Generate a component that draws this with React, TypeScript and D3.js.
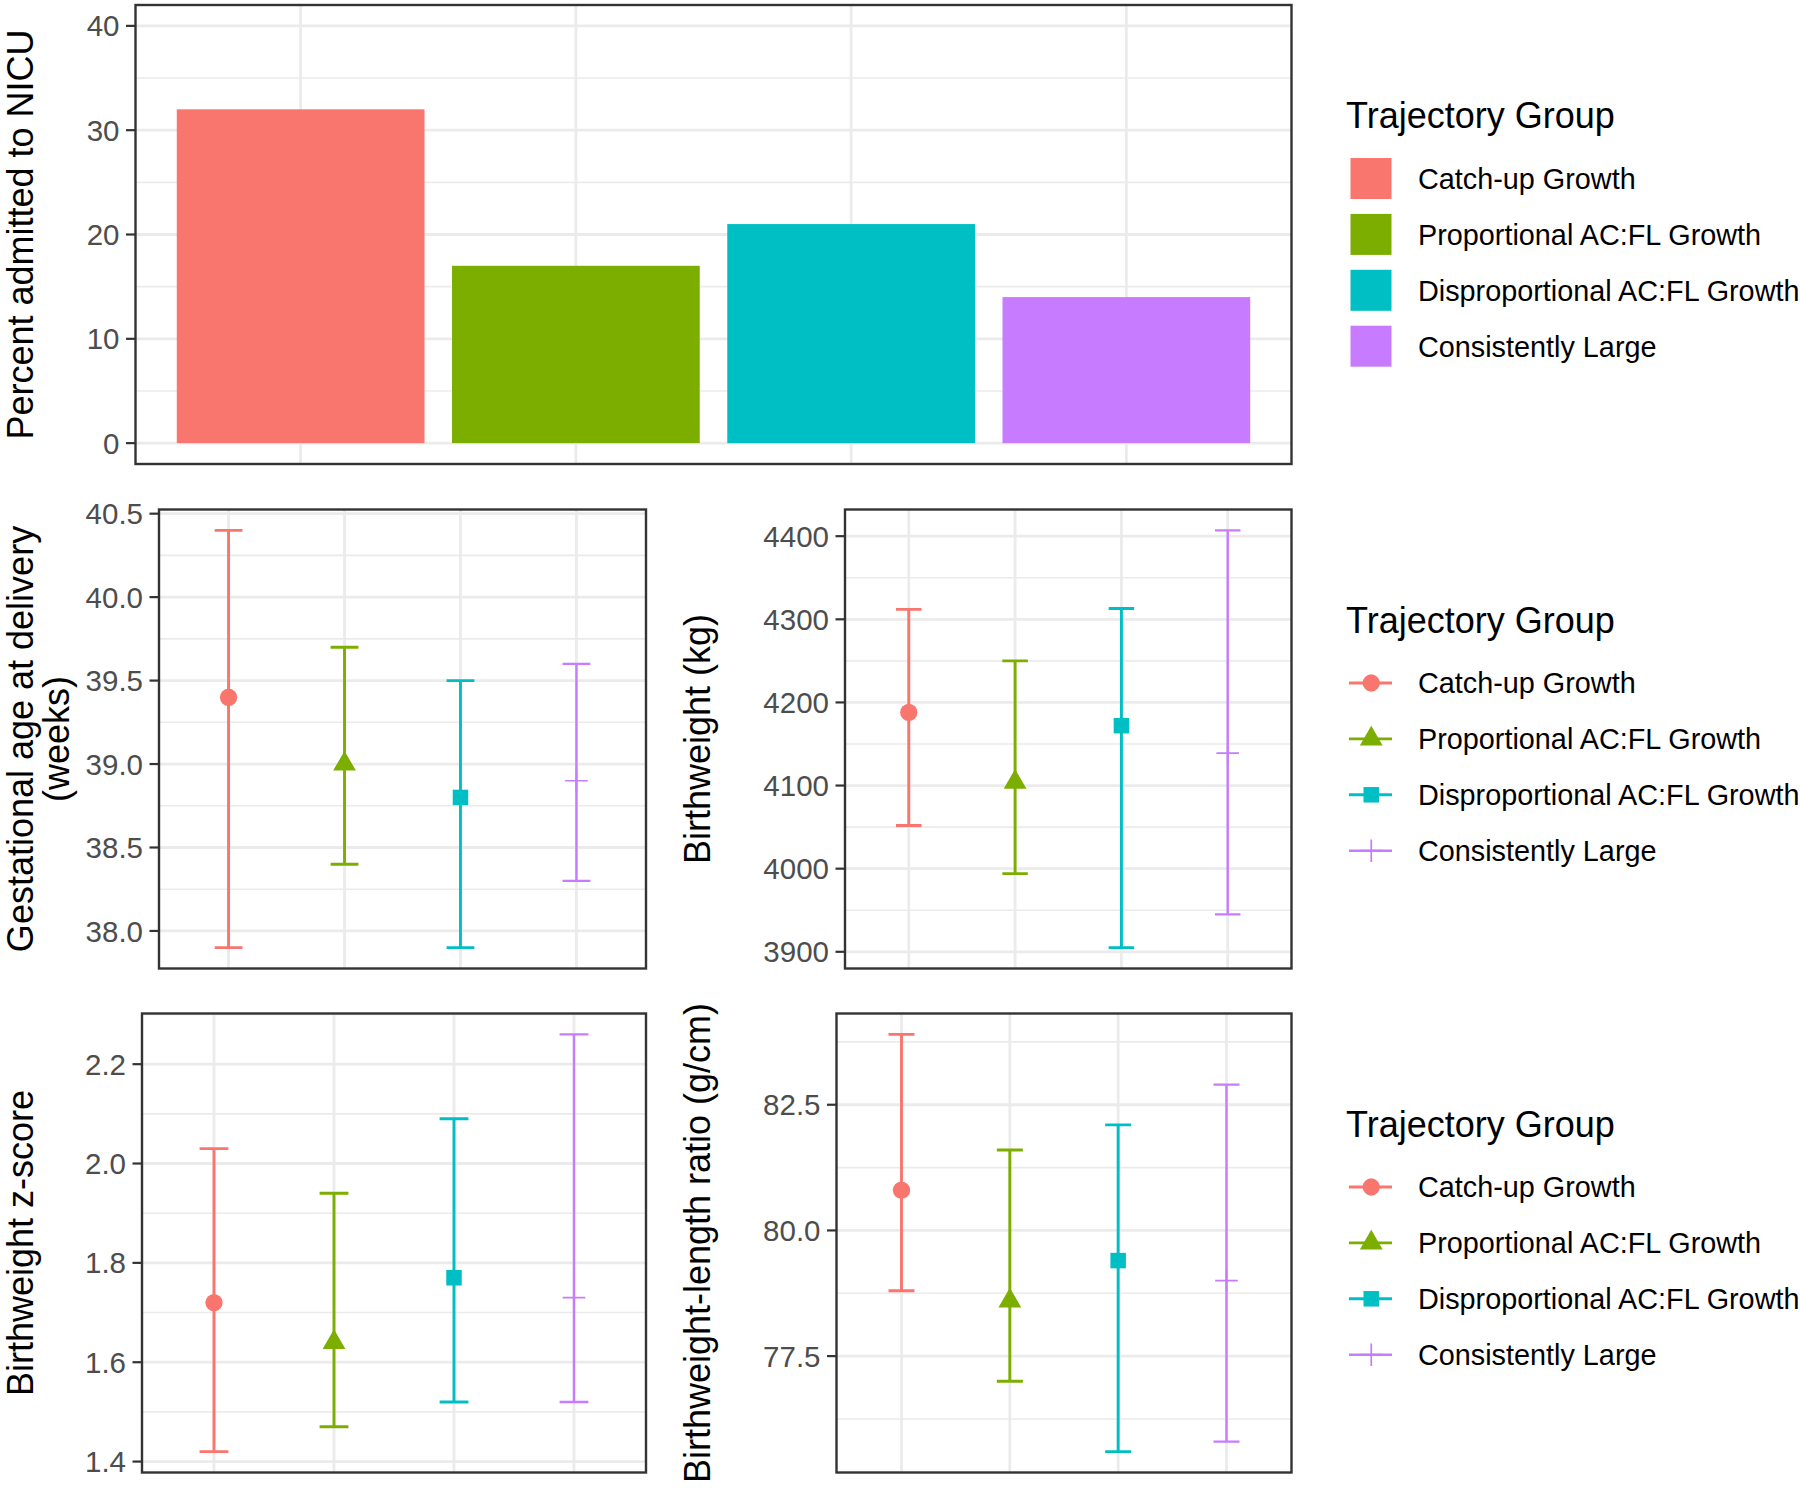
import React from "react";
import * as d3 from "d3";

// Trajectory groups (shared legend)
const groups = [
  "Catch-up Growth",
  "Proportional AC:FL Growth",
  "Disproportional AC:FL Growth",
  "Consistently Large",
];
const groupColors = ["#F8766D", "#7CAE00", "#00BFC4", "#C77CFF"];
const groupShapes = ["circle", "triangle", "square", "plus"];

// Percent admitted to NICU
const nicuPercent = [32, 17, 21, 14];
const nicuLimits = [0, 40];
const nicuTicks = [0, 10, 20, 30, 40];

// Gestational age at delivery (weeks)
const gaMean = [39.4, 39.0, 38.8, 38.9];
const gaLower = [37.9, 38.4, 37.9, 38.3];
const gaUpper = [40.4, 39.7, 39.5, 39.6];
const gaTicks = [38.0, 38.5, 39.0, 39.5, 40.0, 40.5];

// Birthweight
const bwMean = [4188, 4104, 4172, 4139];
const bwLower = [4052, 3994, 3905, 3945];
const bwUpper = [4312, 4250, 4313, 4407];
const bwTicks = [3900, 4000, 4100, 4200, 4300, 4400];

// Birthweight z-score
const zMean = [1.72, 1.64, 1.77, 1.73];
const zLower = [1.42, 1.47, 1.52, 1.52];
const zUpper = [2.03, 1.94, 2.09, 2.26];
const zTicks = [1.4, 1.6, 1.8, 2.0, 2.2];

// Birthweight-length ratio (g/cm)
const ratioMean = [80.8, 78.6, 79.4, 79.0];
const ratioLower = [78.8, 77.0, 75.6, 75.8];
const ratioUpper = [83.9, 81.6, 82.1, 82.9];
const ratioTicks = [77.5, 80.0, 82.5];

const FONT = '"Liberation Sans", Arial, Helvetica, sans-serif';
const GRID = "#EBEBEB";
const BORDER = "#333333";
const TICK_TEXT = "#4D4D4D";

type Box = { x0: number; x1: number; y0: number; y1: number };

const boxes: Record<string, Box> = {
  nicu: { x0: 135.5, x1: 1291.5, y0: 5, y1: 464 },
  ga: { x0: 159, x1: 646, y0: 509.5, y1: 968.5 },
  bw: { x0: 845, x1: 1291.5, y0: 509.5, y1: 968.5 },
  z: { x0: 142, x1: 646, y0: 1013.5, y1: 1472.5 },
  ratio: { x0: 836.5, x1: 1291.5, y0: 1013.5, y1: 1472.5 },
};

// ggplot-style 5% expansion
function expand(lo: number, hi: number) {
  const d = (hi - lo) * 0.05;
  return [lo - d, hi + d];
}

function minorBreaks(ticks: number[], domain: number[]) {
  const step = ticks[1] - ticks[0];
  const out: number[] = [];
  for (let i = -1; i < ticks.length; i++) {
    const v = ticks[0] + step * (i + 0.5);
    if (v > domain[0] && v < domain[1]) out.push(v);
  }
  return out;
}

function xScale(box: Box) {
  return d3.scalePoint<string>().domain(groups).range([box.x0, box.x1]).padding(0.6);
}

function Frame({ box, x, y, ticks, fmt, children }: any) {
  const minor = minorBreaks(ticks, y.domain());
  return (
    <g>
      <rect x={box.x0} y={box.y0} width={box.x1 - box.x0} height={box.y1 - box.y0} fill="#fff" />
      {minor.map((v: number) => (
        <line key={"mi" + v} x1={box.x0} x2={box.x1} y1={y(v)} y2={y(v)} stroke={GRID} strokeWidth={1.6} />
      ))}
      {ticks.map((v: number) => (
        <line key={"ma" + v} x1={box.x0} x2={box.x1} y1={y(v)} y2={y(v)} stroke={GRID} strokeWidth={2.8} />
      ))}
      {groups.map((g) => (
        <line key={"v" + g} x1={x(g)} x2={x(g)} y1={box.y0} y2={box.y1} stroke={GRID} strokeWidth={2.8} />
      ))}
      {children}
      <rect
        x={box.x0}
        y={box.y0}
        width={box.x1 - box.x0}
        height={box.y1 - box.y0}
        fill="none"
        stroke={BORDER}
        strokeWidth={2.4}
      />
      {ticks.map((v: number) => (
        <g key={"t" + v}>
          <line x1={box.x0 - 9.5} x2={box.x0} y1={y(v)} y2={y(v)} stroke={BORDER} strokeWidth={2.2} />
          <text
            x={box.x0 - 16}
            y={y(v)}
            dy="0.36em"
            textAnchor="end"
            fontSize={29.5}
            fill={TICK_TEXT}
          >
            {fmt(v)}
          </text>
        </g>
      ))}
    </g>
  );
}

function Marker({ shape, cx, cy, color }: any) {
  if (shape === "plus") {
    const h = 11.3;
    return (
      <path
        d={`M${cx - h},${cy}H${cx + h}M${cx},${cy - h}V${cy + h}`}
        stroke={color}
        strokeWidth={1.7}
        fill="none"
      />
    );
  }
  const sym =
    shape === "circle" ? d3.symbolCircle : shape === "triangle" ? d3.symbolTriangle : d3.symbolSquare;
  const size = shape === "circle" ? 235 : shape === "triangle" ? 225 : 240;
  return <path transform={`translate(${cx},${cy})`} d={d3.symbol(sym, size)() || ""} fill={color} />;
}

function BarPanel() {
  const box = boxes.nicu;
  const x = xScale(box);
  const y = d3.scaleLinear().domain(expand(nicuLimits[0], nicuLimits[1])).range([box.y1, box.y0]);
  const bw = x.step() * 0.9;
  return (
    <Frame box={box} x={x} y={y} ticks={nicuTicks} fmt={d3.format("d")}>
      {nicuPercent.map((v, i) => (
        <rect
          key={groups[i]}
          x={x(groups[i])! - bw / 2}
          y={y(v)}
          width={bw}
          height={y(0) - y(v)}
          fill={groupColors[i]}
        />
      ))}
    </Frame>
  );
}

function ErrorPanel({ box, mean, lower, upper, ticks, fmt }: any) {
  const x = xScale(box);
  const y = d3
    .scaleLinear()
    .domain(expand(d3.min(lower) as number, d3.max(upper) as number))
    .range([box.y1, box.y0]);
  const cap = x.step() * 0.24;
  return (
    <Frame box={box} x={x} y={y} ticks={ticks} fmt={fmt}>
      {groups.map((g, i) => {
        const cx = x(g)!;
        const col = groupColors[i];
        const lw = i === 3 ? 2.4 : 2.9;
        return (
          <g key={g}>
            <path
              d={`M${cx - cap / 2},${y(upper[i])}H${cx + cap / 2}M${cx},${y(upper[i])}V${y(lower[i])}M${
                cx - cap / 2
              },${y(lower[i])}H${cx + cap / 2}`}
              stroke={col}
              strokeWidth={lw}
              fill="none"
            />
            <Marker shape={groupShapes[i]} cx={cx} cy={y(mean[i])} color={col} />
          </g>
        );
      })}
    </Frame>
  );
}

function AxisTitle({ lines, x, cy }: any) {
  return (
    <text transform={`translate(${x},${cy}) rotate(-90)`} textAnchor="middle" fontSize={36} fill="#000">
      {lines.map((l: string, i: number) => (
        <tspan key={l} x={0} y={i * 36}>
          {l}
        </tspan>
      ))}
    </text>
  );
}

function Legend({ cy, kind }: any) {
  const keyX0 = 1350.5;
  const keyX1 = 1392;
  const keyCx = (keyX0 + keyX1) / 2;
  return (
    <g>
      <text x={1346} y={cy - 106.5} fontSize={36} fill="#000">
        Trajectory Group
      </text>
      {groups.map((g, i) => {
        const ky = cy - 56 + i * 55.9;
        return (
          <g key={g}>
            {kind === "fill" ? (
              <rect x={keyX0} y={ky - 20.5} width={41} height={41} fill={groupColors[i]} />
            ) : (
              <g>
                <line
                  x1={keyX0 - 1.5}
                  x2={keyX1}
                  y1={ky}
                  y2={ky}
                  stroke={groupColors[i]}
                  strokeWidth={i === 3 ? 2.4 : 2.9}
                />
                <Marker shape={groupShapes[i]} cx={keyCx} cy={ky} color={groupColors[i]} />
              </g>
            )}
            <text x={1418} y={ky} dy="0.36em" fontSize={28.8} fill="#000">
              {g}
            </text>
          </g>
        );
      })}
    </g>
  );
}

export default function App() {
  const f1 = d3.format(".1f");
  const fd = d3.format("d");
  const mid = (b: Box) => (b.y0 + b.y1) / 2;
  return (
    <div style={{ position: "absolute", left: 0, top: 0, background: "#fff" }}>
      <svg width={1800} height={1490} style={{ display: "block", fontFamily: FONT }}>
        <rect width={1800} height={1490} fill="#fff" />
        <BarPanel />
        <ErrorPanel box={boxes.ga} mean={gaMean} lower={gaLower} upper={gaUpper} ticks={gaTicks} fmt={f1} />
        <ErrorPanel box={boxes.bw} mean={bwMean} lower={bwLower} upper={bwUpper} ticks={bwTicks} fmt={fd} />
        <ErrorPanel box={boxes.z} mean={zMean} lower={zLower} upper={zUpper} ticks={zTicks} fmt={f1} />
        <ErrorPanel
          box={boxes.ratio}
          mean={ratioMean}
          lower={ratioLower}
          upper={ratioUpper}
          ticks={ratioTicks}
          fmt={f1}
        />

        <AxisTitle lines={["Percent admitted to NICU"]} x={33} cy={mid(boxes.nicu)} />
        <AxisTitle lines={["Gestational age at delivery", "(weeks)"]} x={33} cy={mid(boxes.ga)} />
        <AxisTitle lines={["Birthweight (kg)"]} x={710} cy={mid(boxes.bw)} />
        <AxisTitle lines={["Birthweight z-score"]} x={33} cy={mid(boxes.z)} />
        <AxisTitle lines={["Birthweight-length ratio (g/cm)"]} x={710} cy={mid(boxes.ratio)} />

        <Legend cy={mid(boxes.nicu)} kind="fill" />
        <Legend cy={mid(boxes.ga)} kind="point" />
        <Legend cy={mid(boxes.z)} kind="point" />
      </svg>
    </div>
  );
}
